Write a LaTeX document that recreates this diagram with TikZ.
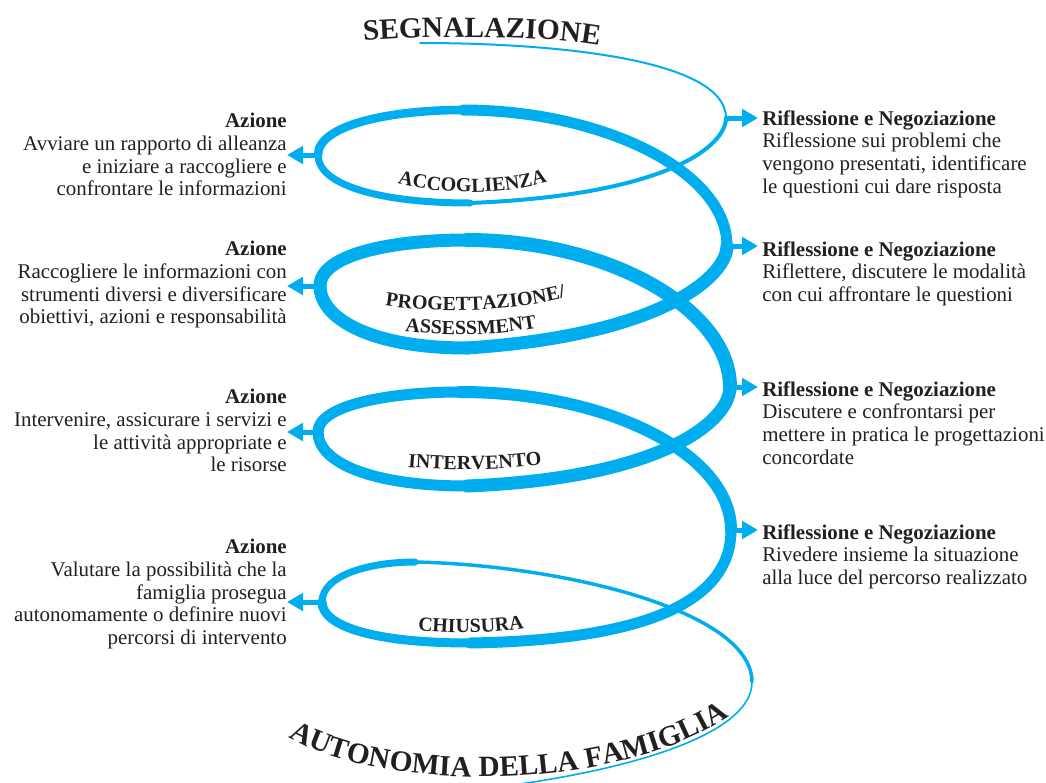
\documentclass[tikz,border=0pt]{standalone}
\usepackage{fontspec}
\setmainfont{Liberation Serif}
\usetikzlibrary{arrows.meta,decorations.text}

\definecolor{spiralblue}{RGB}{0,174,239}
\definecolor{inktext}{RGB}{35,31,32}
\newcommand{\titlefnt}{\bfseries\fontsize{22}{22}\selectfont}
\newcommand{\loopfnt}{\bfseries\fontsize{15}{15}\selectfont}

\tikzset{
  spiral/.style = {draw=spiralblue, line cap=round},
  branch/.style = {draw=spiralblue, line width=3.75pt, -{Triangle[length=12pt,width=13pt]}},
  leftblock/.style = {align=right, inner sep=0pt, anchor=north east, text=inktext, font=\fontsize{15.7}{17}\selectfont},
  rightblock/.style = {align=left, inner sep=0pt, anchor=north west, text=inktext, font=\fontsize{15.7}{17}\selectfont},
  curvetext/.style = {decorate, decoration={text along path, text align=center, text color=inktext, text={#1}}}
}

\begin{document}
\begin{tikzpicture}[x=0.75pt, y=-0.75pt]
        \useasboundingbox (0,0) rectangle (1046,782);

        % points of the spiral
        \coordinate (S0) at (420,43);
        \coordinate (R1) at (726,118);
        \coordinate (B1) at (470,203);
        \coordinate (L1) at (318,155);
        \coordinate (T1) at (463,110);
        \coordinate (R2) at (727,246);
        \coordinate (B2) at (467,348);
        \coordinate (L2) at (320,286);
        \coordinate (T2) at (467,240);
        \coordinate (R3) at (730,387);
        \coordinate (B3) at (467,486);
        \coordinate (L3) at (318,432);
        \coordinate (T3) at (460,392);
        \coordinate (R4) at (731,530);
        \coordinate (B4) at (470,643);
        \coordinate (L4) at (322,602);
        \coordinate (T4) at (415,562);
        \coordinate (R5) at (752,682);
        \coordinate (S1) at (520,784);

        % the spiral, thin at the ends and thick in the middle
        \draw[spiral, line width=1.5pt] (S0) .. controls (560,43) and (726,60) .. (R1);
        \draw[spiral, line width=3pt] (R1) .. controls (726,145) and (670,195) .. (B1);
        \draw[spiral, line width=5.25pt] (B1) .. controls (380,203) and (318,185) .. (L1);
        \draw[spiral, line width=6.4pt] (L1) .. controls (318,125) and (390,110) .. (T1);
        \draw[spiral, line width=8.25pt] (T1) .. controls (600,110) and (727,170) .. (R2);
        \draw[spiral, line width=9.75pt] (R2) .. controls (727,275) and (665,335) .. (B2);
        \draw[spiral, line width=9.75pt] (B2) .. controls (370,348) and (320,318) .. (L2);
        \draw[spiral, line width=9.75pt] (L2) .. controls (320,255) and (390,240) .. (T2);
        \draw[spiral, line width=10.5pt] (T2) .. controls (610,240) and (730,310) .. (R3);
        \draw[spiral, line width=9.75pt] (R3) .. controls (730,420) and (665,478) .. (B3);
        \draw[spiral, line width=8.25pt] (B3) .. controls (370,486) and (318,462) .. (L3);
        \draw[spiral, line width=8.25pt] (L3) .. controls (318,405) and (390,392) .. (T3);
        \draw[spiral, line width=9pt] (T3) .. controls (610,392) and (731,455) .. (R4);
        \draw[spiral, line width=8.25pt] (R4) .. controls (731,600) and (650,640) .. (B4);
        \draw[spiral, line width=6.75pt] (B4) .. controls (370,643) and (322,625) .. (L4);
        \draw[spiral, line width=5.25pt] (L4) .. controls (322,575) and (370,562) .. (T4);
        \draw[spiral, line width=2.6pt] (T4) .. controls (560,565) and (752,610) .. (R5);
        \draw[spiral, line width=1.2pt] (R5) .. controls (752,730) and (650,765) .. (S1);

        % actions on the left
        \node[leftblock] (az1) at (287,113) {\textbf{Azione}\\Avviare un rapporto di alleanza\\e iniziare a raccogliere e\\confrontare le informazioni};
        \node[leftblock] (az2) at (287,241) {\textbf{Azione}\\Raccogliere le informazioni con\\strumenti diversi e diversificare\\obiettivi, azioni e responsabilità};
        \node[leftblock] (az3) at (287,389) {\textbf{Azione}\\Intervenire, assicurare i servizi e\\le attività appropriate e\\le risorse};
        \node[leftblock] (az4) at (287,539) {\textbf{Azione}\\Valutare la possibilità che la\\famiglia prosegua\\autonomamente o definire nuovi\\percorsi di intervento};

        % reflection on the right
        \node[rightblock] (rn1) at (762,110) {\textbf{Riflessione e Negoziazione}\\Riflessione sui problemi che\\vengono presentati, identificare\\le questioni cui dare risposta};
        \node[rightblock] (rn2) at (762,241) {\textbf{Riflessione e Negoziazione}\\Riflettere, discutere le modalità\\con cui affrontare le questioni};
        \node[rightblock] (rn3) at (762,381) {\textbf{Riflessione e Negoziazione}\\Discutere e confrontarsi per\\mettere in pratica le progettazioni\\concordate};
        \node[rightblock] (rn4) at (762,524) {\textbf{Riflessione e Negoziazione}\\Rivedere insieme la situazione\\alla luce del percorso realizzato};

        \draw[branch] (L1) -- (L1 -| az1.east);
        \draw[branch] (L2) -- (L2 -| az2.east);
        \draw[branch] (L3) -- (L3 -| az3.east);
        \draw[branch] (L4) -- (L4 -| az4.east);
        \draw[branch, shorten >=3pt] (R1) -- (R1 -| rn1.west);
        \draw[branch, shorten >=3pt] (R2) -- (R2 -| rn2.west);
        \draw[branch, shorten >=3pt] (R3) -- (R3 -| rn3.west);
        \draw[branch, shorten >=3pt] (R4) -- (R4 -| rn4.west);

        % curved labels
        \path[curvetext={|\titlefnt|SEGNALAZIONE}] (363,41) .. controls (430,36) and (530,34) .. (600,46);
        \path[curvetext={|\titlefnt|AUTONOMIA DELLA FAMIGLIA}] (294,740) .. controls (390,792) and (610,792) .. (724,720);
        \path[curvetext={|\loopfnt|ACCOGLIENZA}] (395,183) .. controls (440,195) and (500,196) .. (550,181);
        \path[curvetext={|\loopfnt|PROGETTAZIONE/}] (383,305) .. controls (440,314) and (510,312) .. (568,297);
        \path[curvetext={|\loopfnt|ASSESSMENT}] (402,331) .. controls (440,336) and (500,336) .. (540,327);
        \path[curvetext={|\loopfnt|INTERVENTO}] (405,467) .. controls (450,471) and (500,471) .. (545,464);
        \path[curvetext={|\loopfnt|CHIUSURA}] (415,630) .. controls (450,634) and (490,634) .. (527,628);
    \end{tikzpicture}
\end{document}
